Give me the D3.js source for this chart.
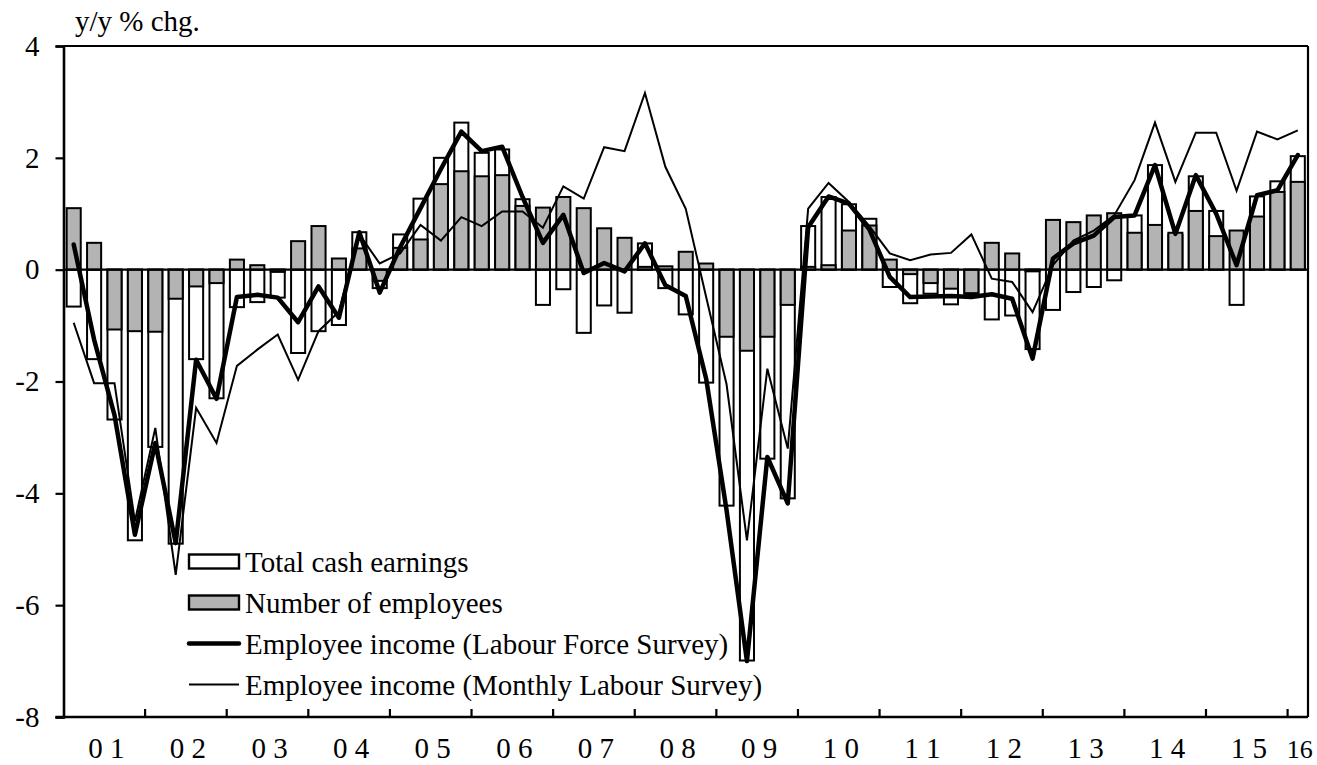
<!DOCTYPE html>
<html>
<head>
<meta charset="utf-8">
<script src="https://cdn.jsdelivr.net/npm/d3@7"></script>
<style>
html,body{margin:0;padding:0;background:#fff;}
svg{display:block;font-family:"Liberation Serif","Times New Roman",serif;}
</style>
</head>
<body>
<svg id="chart" width="1317" height="765"></svg>
<script>
// ---------------- data ----------------
const years = ["01","02","03","04","05","06","07","08","09","10","11","12","13","14","15","16"];
const yearLabels = ["0 1","0 2","0 3","0 4","0 5","0 6","0 7","0 8","0 9","1 0","1 1","1 2","1 3","1 4","1 5","16"];
const quarterNames = ["Q1","Q2","Q3","Q4"];
// 2001Q1 .. 2016Q1
const quarters = [];
years.forEach(y => quarterNames.forEach(q => { if (!(y === "16" && q !== "Q1")) quarters.push(y + q); }));

const cashEarnings = [
  -0.66,-1.60,-2.68,-4.84, -3.17,-4.90,-1.60,-2.30, -0.67,-0.58,-0.50,-1.49,
  -1.10,-0.99, 0.67,-0.33,  0.63, 1.27, 2.00, 2.63,  2.09, 2.15, 1.26,-0.63,
  -0.35,-1.13,-0.64,-0.77,  0.47,-0.33,-0.80,-2.02, -4.22,-6.99,-3.38,-4.09,
   0.78, 1.30, 1.17, 0.91, -0.31,-0.60,-0.43,-0.62, -0.45,-0.89,-0.82,-1.42,
  -0.72,-0.40,-0.31,-0.19,  0.97, 1.87, 0.62, 1.67,  1.05,-0.63, 1.31, 1.58,
   2.03
];
const employees = [
   1.10, 0.48,-1.07,-1.10, -1.11,-0.52,-0.30,-0.24,  0.18, 0.08,-0.04, 0.51,
   0.78, 0.20, 0.38,-0.20,  0.39, 0.54, 1.53, 1.76,  1.67, 1.69, 1.14, 1.11,
   1.30, 1.10, 0.74, 0.57,  0.05, 0.06, 0.32, 0.11, -1.20,-1.45,-1.20,-0.63,
   0.05, 0.08, 0.70, 0.79,  0.18,-0.08,-0.24,-0.34, -0.42, 0.48, 0.29,-0.03,
   0.89, 0.85, 0.97, 1.01,  0.66, 0.80, 0.66, 1.05,  0.60, 0.70, 0.95, 1.39,
   1.57
];
const incomeLFS = [
   0.45,-1.25,-2.60,-4.74, -3.10,-4.89,-1.61,-2.31, -0.49,-0.45,-0.50,-0.94,
  -0.30,-0.86, 0.67,-0.41,  0.40, 1.10, 1.80, 2.47,  2.12, 2.20, 1.30, 0.48,
   0.98,-0.06, 0.12,-0.03,  0.47,-0.28,-0.47,-1.95, -4.30,-7.00,-3.35,-4.18,
   0.76, 1.31, 1.18, 0.72, -0.13,-0.49,-0.48,-0.47, -0.49,-0.44,-0.52,-1.59,
   0.20, 0.47, 0.61, 0.94,  0.97, 1.87, 0.64, 1.69,  1.00, 0.08, 1.33, 1.42,
   2.05
];
const incomeMLS = [
  -0.95,-2.03,-2.03,-4.50, -2.83,-5.46,-2.47,-3.10, -1.72,-1.43,-1.16,-1.97,
  -1.10,-0.75, 0.63, 0.11,  0.29, 0.80, 0.52, 0.94,  0.78, 1.04, 1.04, 0.75,
   1.49, 1.27, 2.19, 2.12,  3.16, 1.84, 1.09,-0.49, -2.05,-4.84,-1.77,-3.20,
   1.09, 1.55, 1.21, 0.78,  0.29, 0.17, 0.27, 0.30,  0.63,-0.16,-0.22,-0.76,
   0.08, 0.52, 0.70, 0.97,  1.60, 2.63, 1.57, 2.45,  2.45, 1.41, 2.47, 2.33,
   2.49
];
const yTicks = [4, 2, 0, -2, -4, -6, -8];
const yTitle = "y/y % chg.";
const legendLabels = [
  "Total cash earnings",
  "Number of employees",
  "Employee income (Labour Force Survey)",
  "Employee income (Monthly Labour Survey)"
];

// ---------------- layout ----------------
const svg = d3.select("#chart");
const L = 63.5, R = 1308, T = 46, B = 717;
const FS = 29;
const grayFill = "#b3b3b3";

const n = quarters.length;
const xIdx = d3.scaleLinear().domain([0, n]).range([L, R]);
const xBand = d3.scaleBand().domain(quarters).range([L, R]).paddingInner(0.31).paddingOuter(0.155);
const xc = (d) => xBand(d) + xBand.bandwidth() / 2;
const y = d3.scaleLinear().domain([-8, 4]).range([B, T]);

const barData = quarters.map((q, i) => ({ q, cash: cashEarnings[i], emp: employees[i], lfs: incomeLFS[i], mls: incomeMLS[i] }));

// white bars (total cash earnings)
svg.append("g").selectAll("rect").data(barData).join("rect")
  .attr("x", d => xBand(d.q))
  .attr("width", xBand.bandwidth())
  .attr("y", d => y(Math.max(0, d.cash)))
  .attr("height", d => Math.abs(y(d.cash) - y(0)))
  .attr("fill", "#fff").attr("stroke", "#000").attr("stroke-width", 2);

// gray bars (number of employees)
svg.append("g").selectAll("rect").data(barData).join("rect")
  .attr("x", d => xBand(d.q))
  .attr("width", xBand.bandwidth())
  .attr("y", d => y(Math.max(0, d.emp)))
  .attr("height", d => Math.abs(y(d.emp) - y(0)))
  .attr("fill", grayFill).attr("stroke", "#000").attr("stroke-width", 2);

// zero line
svg.append("line").attr("x1", L).attr("x2", R).attr("y1", y(0)).attr("y2", y(0))
  .attr("stroke", "#000").attr("stroke-width", 2.2);

// lines
const lineLFS = d3.line().x(d => xc(d.q)).y(d => y(d.lfs));
const lineMLS = d3.line().x(d => xc(d.q)).y(d => y(d.mls));
svg.append("path").datum(barData).attr("d", lineLFS)
  .attr("fill", "none").attr("stroke", "#000").attr("stroke-width", 4.5)
  .attr("stroke-linejoin", "round").attr("stroke-linecap", "round");
svg.append("path").datum(barData).attr("d", lineMLS)
  .attr("fill", "none").attr("stroke", "#000").attr("stroke-width", 2)
  .attr("stroke-linejoin", "miter");

// frame: top and right
svg.append("line").attr("x1", L).attr("x2", R).attr("y1", T).attr("y2", T)
  .attr("stroke", "#000").attr("stroke-width", 2.2);
svg.append("line").attr("x1", R).attr("x2", R).attr("y1", T).attr("y2", B)
  .attr("stroke", "#000").attr("stroke-width", 2.2);

// y axis
const yAxis = d3.axisLeft(y).tickValues(yTicks).tickSize(8).tickPadding(16).tickFormat(d => String(d));
const gy = svg.append("g").attr("transform", `translate(${L},0)`).call(yAxis);
gy.select(".domain").attr("stroke", "#000").attr("stroke-width", 2.6);
gy.selectAll(".tick line").attr("stroke", "#000").attr("stroke-width", 2.2);
gy.selectAll(".tick text").attr("font-size", FS).attr("font-family", "Liberation Serif, Times New Roman, serif").attr("fill", "#000");

// x axis (year boundaries ticks pointing inward)
const yearBounds = d3.range(1, years.length).map(k => k * 4);
const gx = svg.append("g");
gx.append("line").attr("x1", L - 8).attr("x2", R).attr("y1", B).attr("y2", B)
  .attr("stroke", "#000").attr("stroke-width", 2.6);
gx.selectAll("line.tk").data(yearBounds).join("line").attr("class", "tk")
  .attr("x1", d => xIdx(d)).attr("x2", d => xIdx(d))
  .attr("y1", B).attr("y2", B - 8)
  .attr("stroke", "#000").attr("stroke-width", 2.2);
gx.selectAll("text").data(yearLabels).join("text")
  .attr("x", (d, k) => k < years.length - 1 ? xIdx(k * 4 + 2) + 2 : xIdx(k * 4 + 0.5) + 2)
  .attr("y", 758)
  .attr("text-anchor", "middle")
  .attr("font-size", (d, k) => k < years.length - 1 ? FS : FS - 3)
  .attr("fill", "#000")
  .text(d => d);

// y title
svg.append("text").attr("x", 75).attr("y", 31).attr("font-size", FS).attr("fill", "#000").text(yTitle);

// legend
const lg = svg.append("g");
const lx0 = 189, lx1 = 239, rowY = [561.5, 602.5, 643.5, 684.5];
lg.append("rect").attr("x", lx0).attr("y", rowY[0] - 7).attr("width", lx1 - lx0).attr("height", 14)
  .attr("fill", "#fff").attr("stroke", "#000").attr("stroke-width", 2.4);
lg.append("rect").attr("x", lx0).attr("y", rowY[1] - 7).attr("width", lx1 - lx0).attr("height", 14)
  .attr("fill", grayFill).attr("stroke", "#000").attr("stroke-width", 2.4);
lg.append("line").attr("x1", lx0).attr("x2", lx1).attr("y1", rowY[2]).attr("y2", rowY[2])
  .attr("stroke", "#000").attr("stroke-width", 4.5).attr("stroke-linecap", "round");
lg.append("line").attr("x1", lx0).attr("x2", lx1).attr("y1", rowY[3]).attr("y2", rowY[3])
  .attr("stroke", "#000").attr("stroke-width", 2);
lg.selectAll("text").data(legendLabels).join("text")
  .attr("x", 245).attr("y", (d, i) => rowY[i] + 10)
  .attr("font-size", FS).attr("fill", "#000").text(d => d);
</script>
</body>
</html>
